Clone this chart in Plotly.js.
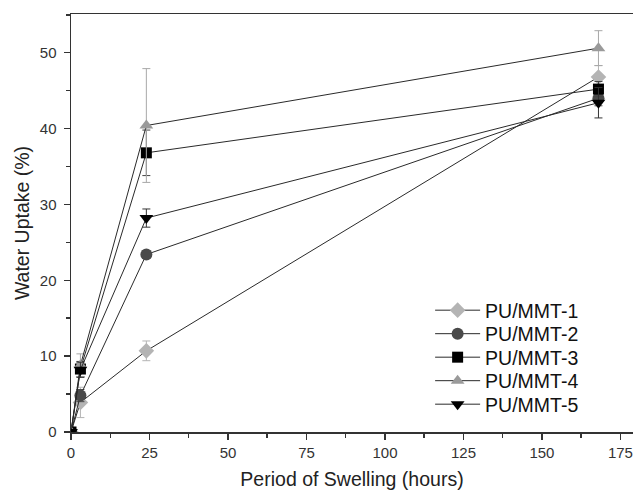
<!DOCTYPE html>
<html>
<head>
<meta charset="utf-8">
<script src="https://cdn.plot.ly/plotly-3.0.1.min.js"></script>
<style>html,body{margin:0;padding:0;background:#fff;}#chart{width:633px;height:495px;}</style>
</head>
<body>
<div id="chart"></div>
<script>
const hours = [0, 3, 24, 168];
const seriesNames = ["PU/MMT-1", "PU/MMT-2", "PU/MMT-3", "PU/MMT-4", "PU/MMT-5"];
const mmt1 = [0, 3.9, 10.7, 46.8];
const mmt2 = [0, 4.8, 23.4, 44.0];
const mmt3 = [0, 8.3, 36.8, 45.2];
const mmt4 = [0, 8.8, 40.4, 50.6];
const mmt5 = [0, 8.2, 28.2, 43.4];
const err1 = [0, 2.0, 1.3, 1.5];
const err2 = [0, 0.8, 0.5, 1.0];
const err3 = [0, 1.0, 3.0, 1.0];
const err4 = [0, 1.5, 7.5, 2.3];
const err5 = [0, 1.0, 1.2, 2.0];
const xTicks = [0, 25, 50, 75, 100, 125, 150, 175];
const yTicks = [0, 10, 20, 30, 40, 50];

const values = [mmt1, mmt2, mmt3, mmt4, mmt5];
const errors = [err1, err2, err3, err4, err5];
const markerColors = ["#b4b4b4", "#4a4a4a", "#000000", "#9a9a9a", "#000000"];
const errColors = ["#b4b4b4", "#4a4a4a", "#444444", "#a8a8a8", "#333333"];
const symbols = ["diamond", "circle", "square", "triangle-up", "triangle-down"];
const sizes = [12, 12, 11, 12, 12];
const legendIds = ["legend", "legend2", "legend3", "legend4", "legend5"];

const traces = values.map((v, i) => ({
  type: "scatter",
  mode: "lines+markers",
  name: seriesNames[i],
  legend: legendIds[i],
  x: hours,
  y: v,
  line: {color: "#2a2a2a", width: 1},
  marker: {symbol: symbols[i], color: markerColors[i], size: sizes[i], line: {width: 0}},
  error_y: {type: "data", array: errors[i], visible: true, color: errColors[i], thickness: 1, width: 4}
}));

const plotTop = 14, plotBottom = 432, plotH = plotBottom - plotTop;
const layout = {
  width: 633, height: 495,
  margin: {l: 71, r: 0, t: plotTop, b: 495 - plotBottom},
  paper_bgcolor: "#fff", plot_bgcolor: "#fff",
  font: {family: "Liberation Sans, Arial, sans-serif", color: "#333"},
  showlegend: true,
  xaxis: {
    range: [0, 179], showgrid: false, zeroline: false,
    showline: true, linecolor: "#333", linewidth: 1.5, mirror: true,
    ticks: "outside", ticklen: 6, tickcolor: "#333", tickwidth: 1.5,
    tickvals: xTicks,
    minor: {tickvals: [12.5, 37.5, 62.5, 87.5, 112.5, 137.5, 162.5], ticks: "outside", ticklen: 4, tickcolor: "#333", tickwidth: 1.5},
    tickfont: {size: 15, color: "#333"},
    title: {text: "Period of Swelling (hours)", font: {size: 19.5, color: "#222"}, standoff: 13}
  },
  yaxis: {
    range: [0, 55.1], showgrid: false, zeroline: false,
    showline: true, linecolor: "#333", linewidth: 1.5,
    ticks: "outside", ticklen: 6, tickcolor: "#333", tickwidth: 1.5,
    tickvals: yTicks, ticklabelstandoff: 4,
    minor: {tickvals: [5, 15, 25, 35, 45, 55], ticks: "outside", ticklen: 4, tickcolor: "#333", tickwidth: 1.5},
    tickfont: {size: 15, color: "#333"},
    title: {text: "Water Uptake (%)", font: {size: 19.5, color: "#222"}, standoff: 5}
  }
};
legendIds.forEach((id, i) => {
  const centerPx = 310.5 + 23.5 * i;
  layout[id] = {
    x: 0.639, y: (plotBottom - centerPx) / plotH, xanchor: "left", yanchor: "middle",
    bgcolor: "rgba(0,0,0,0)", font: {size: 19.5, color: "#111"}, itemwidth: 45
  };
});

Plotly.newPlot("chart", traces, layout, {displayModeBar: false, staticPlot: true});
</script>
</body>
</html>
